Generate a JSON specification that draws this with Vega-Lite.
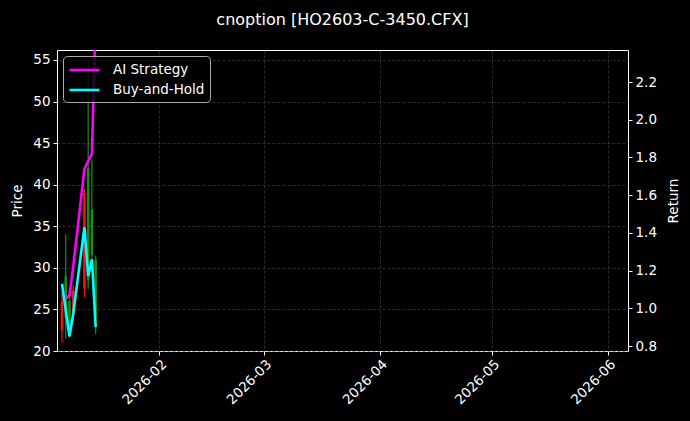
{
  "$schema": "https://vega.github.io/schema/vega-lite/v6.json",
  "width": 571,
  "height": 301,
  "autosize": "none",
  "padding": {"left": 57, "top": 50, "right": 62, "bottom": 70},
  "background": "black",
  "title": {
    "text": "cnoption [HO2603-C-3450.CFX]",
    "color": "white",
    "fontSize": 16,
    "fontWeight": "normal",
    "font": "DejaVu Sans",
    "anchor": "middle",
    "offset": 22
  },
  "config": {
    "font": "DejaVu Sans",
    "view": {"stroke": "white", "strokeWidth": 1},
    "axis": {
      "domain": false,
      "labelColor": "white",
      "labelFontSize": 13.5,
      "labelFont": "DejaVu Sans",
      "titleColor": "white",
      "titleFontSize": 13.5,
      "titleFontWeight": "normal",
      "titleFont": "DejaVu Sans",
      "tickColor": "white",
      "tickSize": 4,
      "tickWidth": 1,
      "labelPadding": 3,
      "grid": true,
      "gridColor": "#4a4a4a",
      "gridDash": [3, 2],
      "gridWidth": 0.6
    }
  },
  "datasets": {
    "candles": [
      {"date": "2026-01-06", "open": 26.0, "close": 22.5, "high": 27.0, "low": 21.0},
      {"date": "2026-01-07", "open": 24.0, "close": 29.0, "high": 34.0, "low": 21.5},
      {"date": "2026-01-08", "open": 23.0, "close": 26.0, "high": 27.0, "low": 22.0},
      {"date": "2026-01-09", "open": 27.3, "close": 24.6, "high": 28.0, "low": 23.5},
      {"date": "2026-01-12", "open": 39.0, "close": 27.5, "high": 39.5, "low": 26.5},
      {"date": "2026-01-13", "open": 28.5, "close": 42.0, "high": 55.0, "low": 27.5},
      {"date": "2026-01-14", "open": 31.5, "close": 37.0, "high": 43.0, "low": 31.0},
      {"date": "2026-01-15", "open": 24.0, "close": 31.0, "high": 31.5, "low": 22.0}
    ],
    "returns": [
      {"date": "2026-01-07", "series": "AI Strategy", "ret": 1.05},
      {"date": "2026-01-08", "series": "AI Strategy", "ret": 1.07},
      {"date": "2026-01-09", "series": "AI Strategy", "ret": 1.22},
      {"date": "2026-01-12", "series": "AI Strategy", "ret": 1.74},
      {"date": "2026-01-13", "series": "AI Strategy", "ret": 1.78},
      {"date": "2026-01-14", "series": "AI Strategy", "ret": 1.82},
      {"date": "2026-01-15", "series": "AI Strategy", "ret": 2.55},
      {"date": "2026-01-06", "series": "Buy-and-Hold", "ret": 1.13},
      {"date": "2026-01-07", "series": "Buy-and-Hold", "ret": 0.99},
      {"date": "2026-01-08", "series": "Buy-and-Hold", "ret": 0.85},
      {"date": "2026-01-09", "series": "Buy-and-Hold", "ret": 0.97},
      {"date": "2026-01-12", "series": "Buy-and-Hold", "ret": 1.43},
      {"date": "2026-01-13", "series": "Buy-and-Hold", "ret": 1.17},
      {"date": "2026-01-14", "series": "Buy-and-Hold", "ret": 1.26},
      {"date": "2026-01-15", "series": "Buy-and-Hold", "ret": 0.90}
    ]
  },
  "encoding": {
    "x": {
      "field": "date",
      "type": "temporal",
      "title": null,
      "scale": {
        "type": "utc",
        "domain": [
          {"year": 2026, "month": 1, "date": 6, "utc": true},
          {"year": 2026, "month": 6, "date": 5, "utc": true}
        ]
      },
      "axis": {
        "values": [
          {"year": 2026, "month": 2, "date": 1, "utc": true},
          {"year": 2026, "month": 3, "date": 1, "utc": true},
          {"year": 2026, "month": 4, "date": 1, "utc": true},
          {"year": 2026, "month": 5, "date": 1, "utc": true},
          {"year": 2026, "month": 6, "date": 1, "utc": true}
        ],
        "labelExpr": "utcFormat(datum.value, '%Y-%m')",
        "labelAngle": -45,
        "labelAlign": "right",
        "labelBaseline": "top",
        "labelPadding": 2
      }
    }
  },
  "layer": [
    {
      "data": {"name": "candles"},
      "encoding": {
        "y": {
          "type": "quantitative",
          "scale": {"domain": [20, 56.2], "nice": false, "zero": false},
          "axis": {"orient": "left", "title": "Price", "values": [20, 25, 30, 35, 40, 45, 50, 55], "titlePadding": 8}
        },
        "color": {
          "condition": {"test": "datum.close >= datum.open", "value": "#109410"},
          "value": "#ff1010"
        }
      },
      "layer": [
        {
          "mark": {"type": "rule", "strokeWidth": 1.2, "clip": true},
          "encoding": {
            "y": {"field": "low", "type": "quantitative"},
            "y2": {"field": "high"}
          }
        },
        {
          "mark": {"type": "bar", "size": 2.5, "clip": true},
          "encoding": {
            "y": {"field": "open", "type": "quantitative"},
            "y2": {"field": "close"}
          }
        }
      ]
    },
    {
      "data": {"name": "returns"},
      "mark": {"type": "line", "strokeWidth": 2.6, "clip": true},
      "encoding": {
        "y": {
          "field": "ret",
          "type": "quantitative",
          "scale": {"domain": [0.7735, 2.37], "nice": false, "zero": false},
          "axis": {"orient": "right", "title": "Return", "titleAngle": 270, "titleBaseline": "top", "values": [0.8, 1.0, 1.2, 1.4, 1.6, 1.8, 2.0, 2.2], "format": ".1f", "titlePadding": 10}
        },
        "color": {
          "field": "series",
          "type": "nominal",
          "scale": {"domain": ["AI Strategy", "Buy-and-Hold"], "range": ["#ff00ff", "#00ffff"]},
          "legend": {
            "title": null,
            "orient": "top-left",
            "offset": 6,
            "fillColor": "rgba(0,0,0,0.8)",
            "strokeColor": "#aaaaaa",
            "cornerRadius": 4,
            "padding": 5,
            "symbolType": "M-1,0H3",
            "symbolStrokeWidth": 2.6,
            "symbolSize": 225,
            "labelOffset": 27,
            "labelColor": "white",
            "labelFontSize": 13.5,
            "labelFont": "DejaVu Sans",
            "rowPadding": 4
          }
        }
      }
    }
  ],
  "resolve": {"scale": {"y": "independent"}}
}
